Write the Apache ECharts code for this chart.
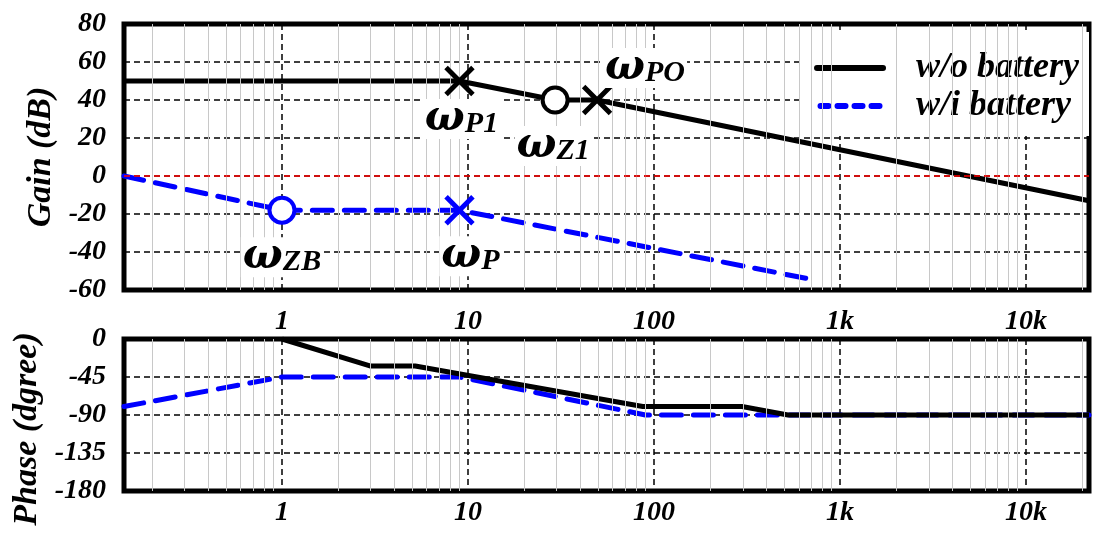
<!DOCTYPE html>
<html>
<head>
<meta charset="utf-8">
<script src="https://cdn.jsdelivr.net/npm/echarts@6/dist/echarts.min.js"></script>
<style>
  html, body { margin: 0; background: #fff; }
  #chart { width: 1093px; height: 535px; }
</style>
</head>
<body>
<div id="chart"></div>
<script>
// frequency range of both plots (log axis)
const X_MIN = 0.1415
const X_MAX = 21800

// gain (dB)
const gainWoFreq = [X_MIN, 9, 29.4, 49.4, X_MAX]
const gainWoDb = [50, 50, 40, 40, -13]
const gainWiFreq = [X_MIN, 1, 9, 750]
const gainWiDb = [0, -18, -18, -55]

// phase (deg)
const phaseWoFreq = [1, 3, 5.2, 87, 297, 525, X_MAX]
const phaseWoDeg = [0, -32, -32, -80, -80, -90, -90]
const phaseWiFreq = [X_MIN, 1, 9, 90, X_MAX]
const phaseWiDeg = [-80, -45, -45, -90, -90]

// poles / zeros on the gain plot
const markerNames = ['P1', 'Z1', 'PO', 'ZB', 'P']
const markerFreq = [9, 29.4, 49.4, 1, 9]
const markerDb = [50, 40, 40, -18, -18]
const markerSeries = ['w/o battery', 'w/o battery', 'w/o battery', 'w/i battery', 'w/i battery']

const freqLabels = { 1: '1', 10: '10', 100: '100', 1000: '1k', 10000: '10k' }

const BLACK = '#000'
const BLUE = '#0000ff'
const FONT = 'Liberation Serif'
const CROSS = 'path://M8.7,0H11.3V8.7H20V11.3H11.3V20H8.7V11.3H0V8.7H8.7Z'
const SOLID_ICON = 'path://M3,0H69A3,3 0 0 1 69,6H3A3,3 0 0 1 3,0Z'
const DASH_ICON = 'path://M3,0H11A3,3 0 0 1 11,6H3A3,3 0 0 1 3,0Z M20,0H28A3,3 0 0 1 28,6H20A3,3 0 0 1 20,0Z M37,0H45A3,3 0 0 1 45,6H37A3,3 0 0 1 37,0Z M54,0H62A3,3 0 0 1 62,6H54A3,3 0 0 1 54,0Z'

// how each marker is drawn (symbol + label offset)
const markerLook = {
  P1: { symbol: CROSS, offset: [2, 38] },
  Z1: { symbol: 'circle', offset: [-2, 46] },
  PO: { symbol: CROSS, offset: [48, -32] },
  ZB: { symbol: 'circle', offset: [0, 47] },
  P: { symbol: CROSS, offset: [11, 46] }
}

const zip = (xs, ys) => xs.map((x, i) => [x, ys[i]])

// minor log grid lines 2..9 per decade
const minorLines = []
for (let e = -1; e <= 4; e++) {
  for (let m = 2; m <= 9; m++) {
    const v = m * Math.pow(10, e)
    if (v > X_MIN && v < X_MAX) minorLines.push({ xAxis: v })
  }
}

const tickText = { fontFamily: FONT, fontWeight: 'bold', fontStyle: 'italic', fontSize: 28, color: BLACK }
const dashed = { color: BLACK, type: [6, 4], width: 1.5 }

const xAxisFor = (gridIndex, margin) => ({
  gridIndex,
  type: 'log',
  min: X_MIN,
  max: X_MAX,
  axisLine: { show: false },
  axisTick: { show: false },
  axisLabel: {
    ...tickText,
    margin,
    formatter: (v) => {
      const p = Math.log10(v)
      return Math.abs(p - Math.round(p)) < 1e-6 ? (freqLabels[Math.round(v)] || '') : ''
    }
  },
  splitLine: { show: true, lineStyle: dashed }
})

const yAxisFor = (gridIndex, min, max, interval, name, nameGap, namePad) => ({
  gridIndex,
  type: 'value',
  min,
  max,
  interval,
  name,
  nameLocation: 'middle',
  nameRotate: 90,
  nameGap,
  nameTextStyle: { fontFamily: FONT, fontWeight: 'bold', fontStyle: 'italic', fontSize: 34, color: BLACK, padding: namePad },
  axisLine: { show: false },
  axisTick: { show: false },
  axisLabel: { ...tickText, margin: 18 },
  splitLine: { show: true, lineStyle: dashed }
})

const minorSeries = (idx) => ({
  type: 'line',
  xAxisIndex: idx,
  yAxisIndex: idx,
  data: [],
  z: 1,
  silent: true,
  markLine: {
    silent: true,
    symbol: 'none',
    label: { show: false },
    lineStyle: { color: '#c8c8c8', type: 'solid', width: 1 },
    data: minorLines
  }
})

const markerData = markerNames.map((n, i) => {
  const look = markerLook[n]
  const color = markerSeries[i] === 'w/o battery' ? BLACK : BLUE
  const isCircle = look.symbol === 'circle'
  return {
    value: [markerFreq[i], markerDb[i]],
    symbol: look.symbol,
    symbolSize: isCircle ? 25 : 38,
    symbolRotate: isCircle ? 0 : 45,
    itemStyle: isCircle
      ? { color: '#fff', borderColor: color, borderWidth: 4, opacity: 1 }
      : { color, opacity: 1 },
    label: {
      show: true,
      position: 'inside',
      offset: look.offset,
      formatter: '{w|ω}{s|' + n + '}',
      backgroundColor: '#fff',
      padding: [0, 2, 0, 2],
      rich: {
        w: { fontFamily: 'DejaVu Serif', fontWeight: 'bold', fontStyle: 'italic', fontSize: 42, color: BLACK, lineHeight: 40 },
        s: { fontFamily: FONT, fontWeight: 'bold', fontStyle: 'italic', fontSize: 30, color: BLACK, lineHeight: 40, verticalAlign: 'bottom', padding: [12, 0, 0, 0] }
      }
    }
  }
})

const chart = echarts.init(document.getElementById('chart'))
chart.setOption({
  animation: false,
  backgroundColor: '#fff',
  grid: [
    { left: 124, right: 4, top: 24, height: 266, show: true, borderColor: BLACK, borderWidth: 5, z: 0 },
    { left: 124, right: 4, top: 339, height: 152, show: true, borderColor: BLACK, borderWidth: 5, z: 0 }
  ],
  xAxis: [xAxisFor(0, 18), xAxisFor(1, 8)],
  yAxis: [
    yAxisFor(0, -60, 80, 20, 'Gain (dB)', 66, 0),
    yAxisFor(1, -180, 0, 45, 'Phase (dgree)', 78, [0, 28, 0, 0])
  ],
  legend: {
    orient: 'vertical',
    right: 4,
    top: 32,
    selectedMode: false,
    backgroundColor: '#fff',
    padding: [18, 10, 12, 11],
    itemWidth: 72,
    itemHeight: 6,
    itemGap: 2,
    textStyle: { fontFamily: FONT, fontWeight: 'bold', fontStyle: 'italic', fontSize: 36, color: BLACK, lineHeight: 31, padding: [0, 0, 0, 25] },
    data: [
      { name: 'w/o battery', icon: SOLID_ICON, itemStyle: { color: BLACK } },
      { name: 'w/i battery', icon: DASH_ICON, itemStyle: { color: BLUE } }
    ]
  },
  series: [
    minorSeries(0),
    minorSeries(1),
    {
      name: 'w/i battery',
      type: 'line',
      xAxisIndex: 0,
      yAxisIndex: 0,
      data: zip(gainWiFreq, gainWiDb),
      symbol: 'none',
      itemStyle: { color: BLUE },
      lineStyle: { color: BLUE, width: 5, type: [20, 12], cap: 'round' },
      markLine: {
        silent: true,
        symbol: 'none',
        label: { show: false },
        lineStyle: { color: '#ff0000', type: [6, 4], width: 1.5 },
        data: [{ yAxis: 0 }]
      }
    },
    {
      name: 'w/o battery',
      type: 'line',
      xAxisIndex: 0,
      yAxisIndex: 0,
      data: zip(gainWoFreq, gainWoDb),
      symbol: 'none',
      itemStyle: { color: BLACK },
      lineStyle: { color: BLACK, width: 5 }
    },
    {
      name: 'w/i battery',
      type: 'line',
      xAxisIndex: 1,
      yAxisIndex: 1,
      data: zip(phaseWiFreq, phaseWiDeg),
      symbol: 'none',
      itemStyle: { color: BLUE },
      lineStyle: { color: BLUE, width: 5, type: [20, 12], cap: 'round' }
    },
    {
      name: 'w/o battery',
      type: 'line',
      xAxisIndex: 1,
      yAxisIndex: 1,
      data: zip(phaseWoFreq, phaseWoDeg),
      symbol: 'none',
      itemStyle: { color: BLACK },
      lineStyle: { color: BLACK, width: 5 }
    },
    {
      type: 'scatter',
      xAxisIndex: 0,
      yAxisIndex: 0,
      z: 5,
      itemStyle: { opacity: 1 },
      data: markerData
    }
  ]
})
</script>
</body>
</html>
